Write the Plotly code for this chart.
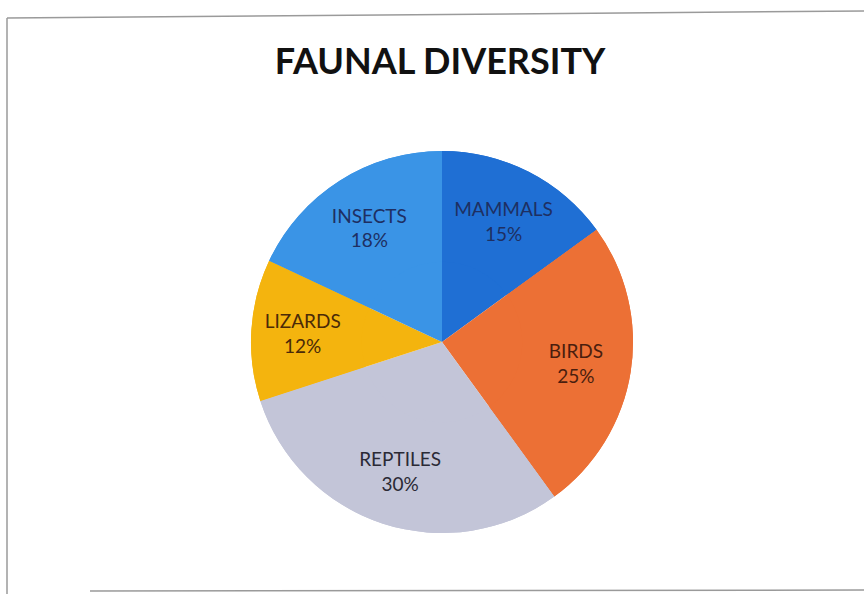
import plotly.graph_objects as go

# Faunal diversity breakdown (percent of recorded species)
groups = ["MAMMALS", "BIRDS", "REPTILES", "LIZARDS", "INSECTS"]
shares = [15, 25, 30, 12, 18]
slice_colors = ["#1F6FD4", "#EC7035", "#C3C5D8", "#F4B40E", "#3A94E6"]
label_colors = ["#1E2F62", "#4A1E0E", "#2A2A35", "#4A2A08", "#1E2F62"]

W, H = 864, 594
cx, cy, r = 442, 342, 191
domain = dict(
    x=[(cx - r) / W, (cx + r) / W],
    y=[(H - cy - r) / H, (H - cy + r) / H],
)

common = dict(
    labels=groups,
    values=shares,
    sort=False,
    direction="clockwise",
    rotation=0,
    marker=dict(colors=slice_colors, line=dict(width=0)),
    showlegend=False,
    hoverinfo="skip",
    domain=domain,
)

fig = go.Figure()
# Solid pie
fig.add_trace(go.Pie(textinfo="none", **common))
# Outer ring of the same slices carries the labels, keeping them toward the rim
fig.add_trace(
    go.Pie(
        hole=0.42,
        texttemplate="%{label}<br>%{percent:.0%}",
        textposition="inside",
        insidetextorientation="horizontal",
        textfont=dict(family="Lato", size=19, color=label_colors),
        **common,
    )
)

# Chart frame
frame = dict(color="#9A9A9A", width=1.5)
fig.add_shape(type="line", xref="paper", yref="paper",
              x0=7 / W, y0=1 - 18 / H, x1=1, y1=1 - 11 / H, line=frame)
fig.add_shape(type="line", xref="paper", yref="paper",
              x0=7 / W, y0=1 - 18 / H, x1=7 / W, y1=0, line=frame)
fig.add_shape(type="line", xref="paper", yref="paper",
              x0=90 / W, y0=1 - 591 / H, x1=1, y1=1 - 590 / H, line=frame)

fig.update_layout(
    width=W,
    height=H,
    margin=dict(l=0, r=0, t=0, b=0),
    paper_bgcolor="white",
    plot_bgcolor="white",
    uniformtext=dict(minsize=19, mode="show"),
    title=dict(
        text="<b>FAUNAL DIVERSITY</b>",
        x=440 / W,
        xanchor="center",
        y=1 - 61 / H,
        yanchor="middle",
        font=dict(family="Lato", size=36, color="#111111"),
    ),
)

fig.write_html("out.html")
